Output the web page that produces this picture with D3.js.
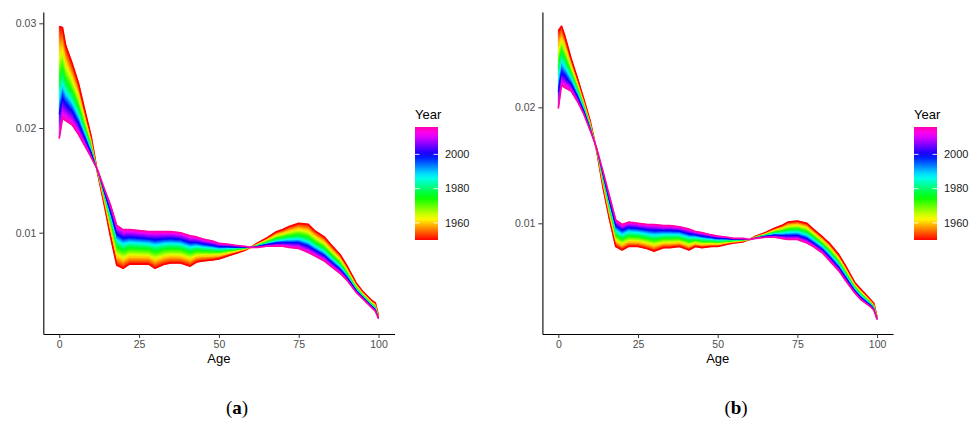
<!DOCTYPE html>
<html>
<head>
<meta charset="utf-8">
<script src="https://cdn.jsdelivr.net/npm/d3@7"></script>
<style>
  body { margin: 0; background: #fff; }
  svg { display: block; }
  text { font-family: "Liberation Sans", Arial, Helvetica, sans-serif; }
</style>
</head>
<body>
<svg id="chart" width="976" height="423"></svg>
<script>
// Age grid shared by both panels
const ages = [0,1,2,4,6,8,10,12,14,16,18,20,22,25,28,30,33,35,38,41,43,45,48,50,53,55,58,60,62,65,68,70,72,75,78,80,83,85,88,90,93,95,98,99,100];

// Years that have a stored age profile; the band between them is shaded by year
const keyYears = [1950, 1960, 1980, 2000, 2016];
const yearRange = [1950, 2016];
const yearTicks = [1960, 1980, 2000];

// Panel (a): age-specific values per year
const ratesA1950 = [0.0297,0.0296,0.0279,0.0262,0.0243,0.0217,0.0192,0.0157,0.0128,0.0097,0.0069,0.0066,0.0070,0.0070,0.0070,0.0066,0.0070,0.0071,0.0071,0.0068,0.0072,0.0073,0.0074,0.0075,0.0078,0.0080,0.0083,0.0086,0.0090,0.0095,0.0101,0.0103,0.0106,0.0109,0.0108,0.0102,0.0096,0.0089,0.0079,0.0069,0.0052,0.0044,0.0035,0.0033,0.0020];
const ratesA1960 = [0.02745,0.02777,0.02639,0.02496,0.02327,0.02099,0.01878,0.01576,0.01312,0.01033,0.00770,0.00738,0.00769,0.00767,0.00765,0.00734,0.00765,0.00773,0.00771,0.00741,0.00770,0.00774,0.00778,0.00782,0.00803,0.00817,0.00838,0.00860,0.00892,0.00933,0.00981,0.00996,0.01018,0.01040,0.01023,0.00970,0.00912,0.00846,0.00752,0.00661,0.00501,0.00425,0.00335,0.00313,0.00196];
const ratesA1980 = [0.02392,0.02490,0.02401,0.02301,0.02165,0.01986,0.01812,0.01586,0.01361,0.01132,0.00895,0.00860,0.00878,0.00873,0.00867,0.00849,0.00867,0.00872,0.00867,0.00837,0.00850,0.00843,0.00837,0.00831,0.00839,0.00843,0.00852,0.00860,0.00878,0.00907,0.00934,0.00944,0.00952,0.00960,0.00934,0.00890,0.00836,0.00777,0.00693,0.00614,0.00471,0.00402,0.00312,0.00287,0.00189];
const ratesA2000 = [0.02135,0.02281,0.02228,0.02160,0.02048,0.01905,0.01764,0.01593,0.01397,0.01204,0.00986,0.00949,0.00957,0.00950,0.00942,0.00933,0.00942,0.00944,0.00936,0.00906,0.00907,0.00894,0.00880,0.00867,0.00866,0.00862,0.00861,0.00860,0.00869,0.00888,0.00901,0.00905,0.00904,0.00903,0.00869,0.00833,0.00781,0.00726,0.00650,0.00581,0.00450,0.00385,0.00295,0.00268,0.00184];
const ratesA2016 = [0.0190,0.0209,0.0207,0.0203,0.0194,0.0183,0.0172,0.0160,0.0143,0.0127,0.0107,0.0103,0.0103,0.0102,0.0101,0.0101,0.0101,0.0101,0.0100,0.0097,0.0096,0.0094,0.0092,0.0090,0.0089,0.0088,0.0087,0.0086,0.0086,0.0087,0.0087,0.0087,0.0086,0.0085,0.0081,0.0078,0.0073,0.0068,0.0061,0.0055,0.0043,0.0037,0.0028,0.0025,0.0018];

// Panel (b): age-specific values per year
const ratesB1950 = [0.0266,0.0270,0.0262,0.0242,0.0225,0.0207,0.0188,0.0163,0.0131,0.0104,0.0080,0.0077,0.0080,0.0080,0.0078,0.0076,0.0079,0.0079,0.0080,0.0077,0.0080,0.0079,0.0080,0.0080,0.0082,0.0083,0.0084,0.0086,0.0089,0.0092,0.0096,0.0098,0.0101,0.0102,0.0100,0.0095,0.0088,0.0083,0.0073,0.0064,0.0049,0.0043,0.0034,0.0031,0.0019];
const ratesB1960 = [0.02533,0.02603,0.02535,0.02367,0.02212,0.02045,0.01865,0.01634,0.01337,0.01078,0.00844,0.00812,0.00840,0.00838,0.00820,0.00804,0.00826,0.00826,0.00832,0.00804,0.00825,0.00815,0.00819,0.00817,0.00831,0.00838,0.00846,0.00860,0.00886,0.00912,0.00945,0.00959,0.00982,0.00990,0.00968,0.00922,0.00853,0.00802,0.00703,0.00615,0.00473,0.00413,0.00329,0.00299,0.00186];
const ratesB1980 = [0.02325,0.02445,0.02395,0.02280,0.02150,0.02005,0.01840,0.01640,0.01380,0.01140,0.00915,0.00880,0.00905,0.00900,0.00885,0.00875,0.00885,0.00885,0.00885,0.00860,0.00865,0.00855,0.00850,0.00845,0.00850,0.00850,0.00855,0.00860,0.00880,0.00900,0.00920,0.00925,0.00935,0.00940,0.00915,0.00875,0.00810,0.00755,0.00660,0.00575,0.00445,0.00385,0.00310,0.00280,0.00180];
const ratesB2000 = [0.02137,0.02302,0.02269,0.02202,0.02094,0.01969,0.01818,0.01646,0.01419,0.01196,0.00979,0.00942,0.00964,0.00956,0.00944,0.00939,0.00938,0.00938,0.00933,0.00910,0.00901,0.00891,0.00878,0.00870,0.00867,0.00861,0.00863,0.00860,0.00874,0.00889,0.00898,0.00894,0.00893,0.00895,0.00867,0.00830,0.00771,0.00713,0.00621,0.00539,0.00420,0.00360,0.00293,0.00263,0.00174];
const ratesB2016 = [0.0199,0.0219,0.0217,0.0214,0.0205,0.0194,0.0180,0.0165,0.0145,0.0124,0.0103,0.0099,0.0101,0.0100,0.0099,0.0099,0.0098,0.0098,0.0097,0.0095,0.0093,0.0092,0.0090,0.0089,0.0088,0.0087,0.0087,0.0086,0.0087,0.0088,0.0088,0.0087,0.0086,0.0086,0.0083,0.0080,0.0074,0.0068,0.0059,0.0051,0.0040,0.0034,0.0028,0.0025,0.0017];

const xTicks = [0, 25, 50, 75, 100];
const yTicksA = [0.01, 0.02, 0.03];
const yTicksB = [0.01, 0.02];

// Rainbow colour scale: red for the earliest year through to pink-magenta
const hueScale = d3.scaleLinear().domain(yearRange).range([0, 320]);
const yearColor = yr => d3.hsl(hueScale(yr), 1, 0.5).formatHex();

const svg = d3.select("#chart");
const defs = svg.append("defs");
let gradId = 0;

function drawPanel(cfg) {
  const g = svg.append("g");
  const x = d3.scaleLinear().domain([-5, 105]).range(cfg.xRange);
  const y = d3.scaleLinear().domain(cfg.yDomain).range([334, 12]);
  const curves = cfg.series;

  // shaded band between neighbouring year profiles, with colour running across the band
  const bands = g.append("g");
  for (let k = 0; k < curves.length - 1; k++) {
    const yr0 = keyYears[k], yr1 = keyYears[k + 1];
    for (let i = 0; i < ages.length - 1; i++) {
      const P1 = [x(ages[i]), y(curves[k][i])];
      const P2 = [x(ages[i + 1]), y(curves[k][i + 1])];
      const P3 = [x(ages[i + 1]), y(curves[k + 1][i + 1])];
      const P4 = [x(ages[i]), y(curves[k + 1][i])];
      const A = [(P1[0] + P2[0]) / 2, (P1[1] + P2[1]) / 2];
      const B = [(P3[0] + P4[0]) / 2, (P3[1] + P4[1]) / 2];
      const dx = (P2[0] - P1[0] + P3[0] - P4[0]) / 2;
      const dy = (P2[1] - P1[1] + P3[1] - P4[1]) / 2;
      const L = Math.hypot(dx, dy) || 1;
      const nx = -dy / L, ny = dx / L;
      const proj = (B[0] - A[0]) * nx + (B[1] - A[1]) * ny;
      let fill;
      if (Math.abs(proj) < 0.4) {
        fill = yearColor((yr0 + yr1) / 2);
      } else {
        const id = "band" + (gradId++);
        const gr = defs.append("linearGradient").attr("id", id)
          .attr("gradientUnits", "userSpaceOnUse")
          .attr("x1", A[0]).attr("y1", A[1])
          .attr("x2", A[0] + nx * proj).attr("y2", A[1] + ny * proj);
        d3.range(6).forEach(s => gr.append("stop")
          .attr("offset", s / 5)
          .attr("stop-color", yearColor(yr0 + (yr1 - yr0) * s / 5)));
        fill = `url(#${id})`;
      }
      bands.append("path")
        .attr("d", `M${P1}L${P2}L${P3}L${P4}Z`)
        .attr("fill", fill)
        .attr("stroke", fill)
        .attr("stroke-width", 0.7)
        .attr("stroke-linejoin", "round");
    }
  }

  // year profiles as lines
  const line = d3.line().x((d, i) => x(ages[i])).y(d => y(d));
  g.append("g").selectAll("path").data(curves).join("path")
    .attr("d", line)
    .attr("fill", "none")
    .attr("stroke", (d, k) => yearColor(keyYears[k]))
    .attr("stroke-width", (d, k) => (k === 0 || k === curves.length - 1) ? 1.6 : 1)
    .attr("stroke-linejoin", "round");

  // axes
  const xAxis = g.append("g").attr("transform", "translate(0,334)")
    .call(d3.axisBottom(x).tickValues(xTicks).tickSize(4).tickSizeOuter(0).tickPadding(3));
  const yAxis = g.append("g").attr("transform", `translate(${cfg.xRange[0]},0)`)
    .call(d3.axisLeft(y).tickValues(cfg.yTicks).tickFormat(d3.format(".2f"))
      .tickSize(4).tickSizeOuter(0).tickPadding(3));
  [xAxis, yAxis].forEach(ax => {
    ax.select(".domain").attr("stroke", "#000").attr("stroke-width", 1.1);
    ax.selectAll(".tick line").attr("stroke", "#333").attr("stroke-width", 1);
    ax.selectAll(".tick text").attr("fill", "#4d4d4d").style("font-size", "10.5px")
      .style("font-family", '"Liberation Sans", Arial, sans-serif');
  });

  g.append("text")
    .attr("x", (cfg.xRange[0] + cfg.xRange[1]) / 2).attr("y", 363)
    .attr("text-anchor", "middle").style("font-size", "13px").attr("fill", "#000")
    .text("Age");

  // colour bar legend
  const lg = g.append("g").attr("transform", `translate(${cfg.legendX},0)`);
  lg.append("text").attr("x", 0).attr("y", 119).style("font-size", "13px").attr("fill", "#000").text("Year");
  const barTop = 127, barBot = 240, barW = 23;
  const ly = d3.scaleLinear().domain(yearRange).range([barBot, barTop]);
  const lgId = "legend" + (gradId++);
  const lgr = defs.append("linearGradient").attr("id", lgId)
    .attr("x1", 0).attr("y1", 1).attr("x2", 0).attr("y2", 0);
  d3.range(0, 23).forEach(s => lgr.append("stop")
    .attr("offset", s / 22)
    .attr("stop-color", yearColor(yearRange[0] + (yearRange[1] - yearRange[0]) * s / 22)));
  lg.append("rect").attr("x", 0).attr("y", barTop).attr("width", barW).attr("height", barBot - barTop)
    .attr("fill", `url(#${lgId})`);
  yearTicks.forEach(t => {
    const ty = ly(t);
    lg.append("line").attr("x1", 0).attr("x2", 4.5).attr("y1", ty).attr("y2", ty)
      .attr("stroke", "#fff").attr("stroke-opacity", 0.85).attr("stroke-width", 1);
    lg.append("line").attr("x1", barW - 4.5).attr("x2", barW).attr("y1", ty).attr("y2", ty)
      .attr("stroke", "#fff").attr("stroke-opacity", 0.85).attr("stroke-width", 1);
    lg.append("text").attr("x", barW + 7).attr("y", ty).attr("dy", "0.35em")
      .style("font-size", "11px").attr("fill", "#1a1a1a").text(t);
  });

  // panel caption
  const cap = g.append("text").attr("x", cfg.captionX).attr("y", 414)
    .attr("text-anchor", "middle")
    .style("font-family", '"Liberation Serif", "DejaVu Serif", serif')
    .style("font-size", "19px").attr("fill", "#000");
  cap.append("tspan").text("(");
  cap.append("tspan").style("font-weight", "bold").text(cfg.caption);
  cap.append("tspan").text(")");
}

drawPanel({
  series: [ratesA1950, ratesA1960, ratesA1980, ratesA2000, ratesA2016],
  xRange: [43.3, 394.5],
  yDomain: [0.000325, 0.031079],
  yTicks: yTicksA,
  legendX: 415,
  caption: "a",
  captionX: 237
});

drawPanel({
  series: [ratesB1950, ratesB1960, ratesB1980, ratesB2000, ratesB2016],
  xRange: [542.4, 893],
  yDomain: [0.000457, 0.028216],
  yTicks: yTicksB,
  legendX: 914,
  caption: "b",
  captionX: 736
});
</script>
</body>
</html>
